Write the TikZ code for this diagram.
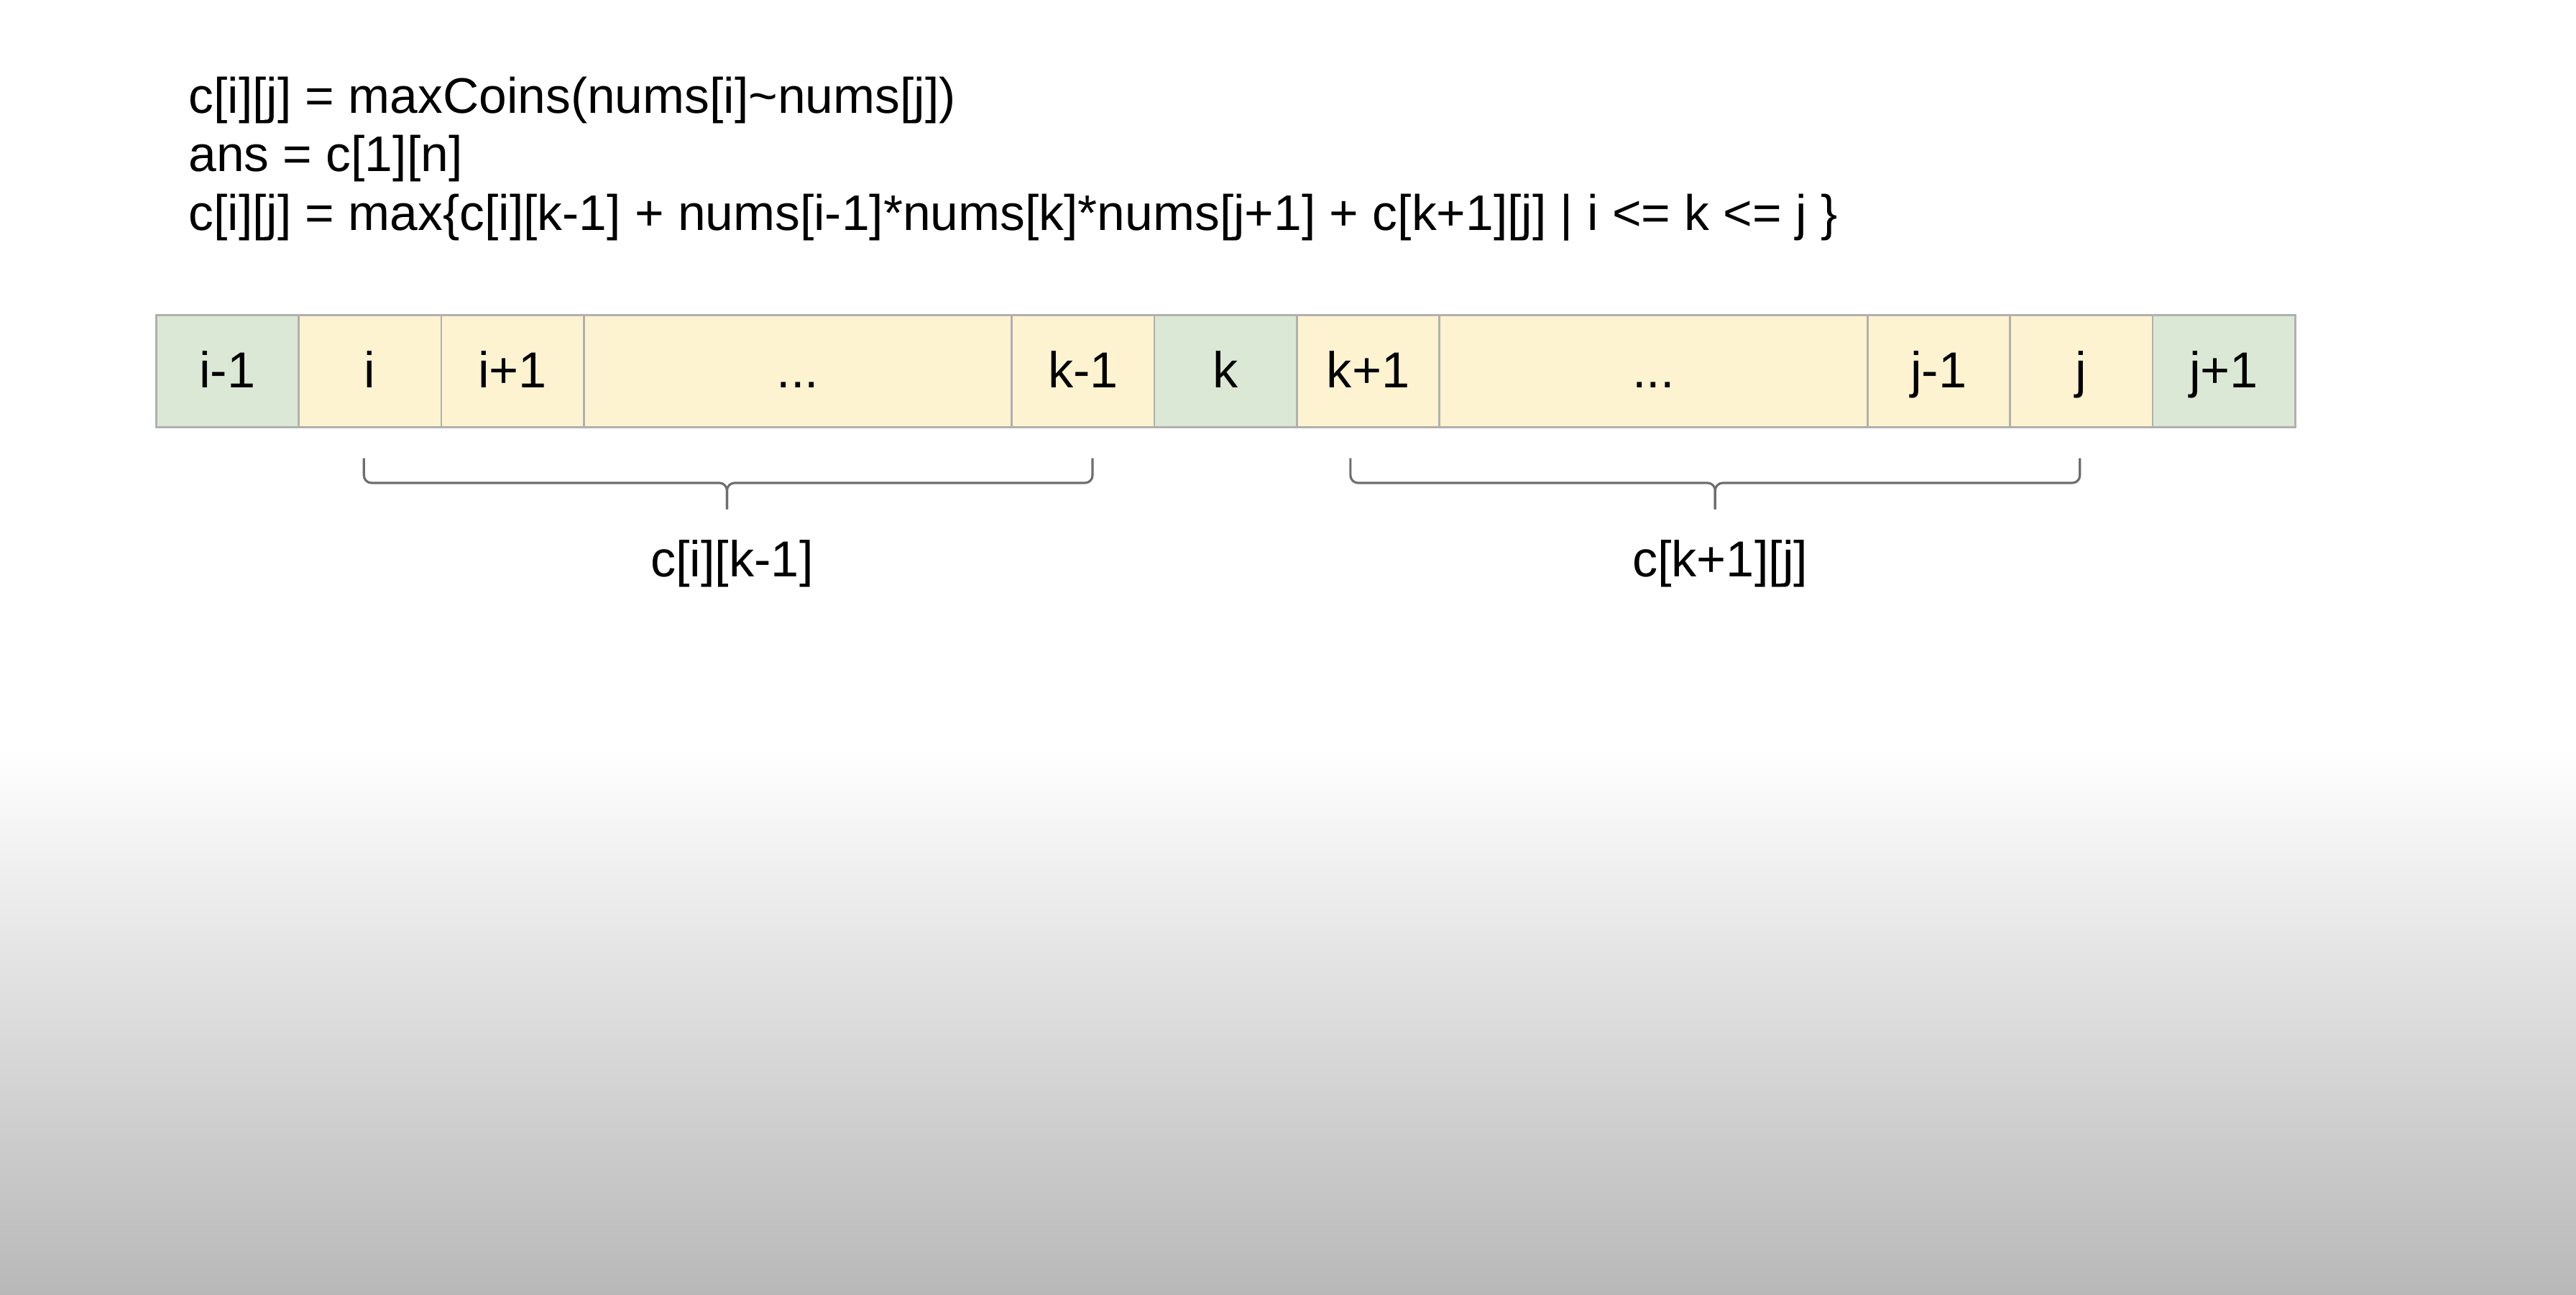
\documentclass[tikz,border=0pt]{standalone}
\usepackage{fontspec}
\setmainfont{Liberation Sans}
\usetikzlibrary{positioning}
\definecolor{cellgreen}{HTML}{DCE8D6}
\definecolor{cellyellow}{HTML}{FDF3D0}
\definecolor{cellborder}{HTML}{B0B0B0}
\definecolor{bracegray}{HTML}{6E6E6E}
\definecolor{bggray}{HTML}{B8B8B8}
\tikzset{
  cell/.style={draw=cellborder, line width=0.8pt, outer sep=0pt, inner sep=0pt,
    minimum width=1.984cm, minimum height=1.554cm, text height=0.457cm, text depth=0pt,
    font=\fontsize{20pt}{24pt}\selectfont},
  endcell/.style={cell, fill=cellgreen},
  midcell/.style={cell, fill=cellyellow},
  widecell/.style={midcell, minimum width=5.953cm},
  formula/.style={anchor=base west, inner sep=0pt, font=\fontsize{19.8pt}{24pt}\selectfont},
  bracelabel/.style={anchor=base, inner sep=0pt, font=\fontsize{20pt}{24pt}\selectfont},
  bracepath/.style={draw=bracegray, line width=0.9pt, rounded corners=3pt},
}
\begin{document}
\begin{tikzpicture}[x=0.02286cm,y=-0.02286cm]
    \useasboundingbox (0,0) rectangle (1568,788);
    % background
    \fill [white] (0,0) rectangle (1568,788);
    \shade [top color=white, bottom color=bggray] (0,456) rectangle (1568,788);
    % formulas
    \node [formula] (def) at (114.5,68.8) {c[i][j] = maxCoins(nums[i]\textasciitilde nums[j])};
    \node [formula] (ans) at (114.5,104.3) {ans = c[1][n]};
    \node [formula] (rec) at (114.5,140) {c[i][j] = max\{c[i][k-1] + nums[i-1]*nums[k]*nums[j+1] + c[k+1][j] | i <= k <= j \}};
    % the row of balloons
    \node [endcell, anchor=north west] (im1) at (95,192) {i-1};
    \node [midcell, right=0pt of im1] (ci) {i};
    \node [midcell, right=0pt of ci] (ip1) {i+1};
    \node [widecell, right=0pt of ip1] (dotsl) {...};
    \node [midcell, right=0pt of dotsl] (km1) {k-1};
    \node [endcell, right=0pt of km1] (ck) {k};
    \node [midcell, right=0pt of ck] (kp1) {k+1};
    \node [widecell, right=0pt of kp1] (dotsr) {...};
    \node [midcell, right=0pt of dotsr] (jm1) {j-1};
    \node [midcell, right=0pt of jm1] (cj) {j};
    \node [endcell, right=0pt of cj] (jp1) {j+1};
    % left brace
    \coordinate (lbl) at (221.5,279);
    \coordinate (lbr) at (665,279);
    \coordinate (lbm) at (442.5,294);
    \coordinate (lbt) at (442.5,310);
    \draw [bracepath] (lbl) |- (lbm) -- (lbt);
    \draw [bracepath] (lbr) |- (lbm) -- (lbt);
    \node [bracelabel] (lsub) at (445.5,351) {c[i][k-1]};
    % right brace
    \coordinate (rbl) at (822,279);
    \coordinate (rbr) at (1266,279);
    \coordinate (rbm) at (1044,294);
    \coordinate (rbt) at (1044,310);
    \draw [bracepath] (rbl) |- (rbm) -- (rbt);
    \draw [bracepath] (rbr) |- (rbm) -- (rbt);
    \node [bracelabel] (rsub) at (1047,351) {c[k+1][j]};
\end{tikzpicture}
\end{document}
